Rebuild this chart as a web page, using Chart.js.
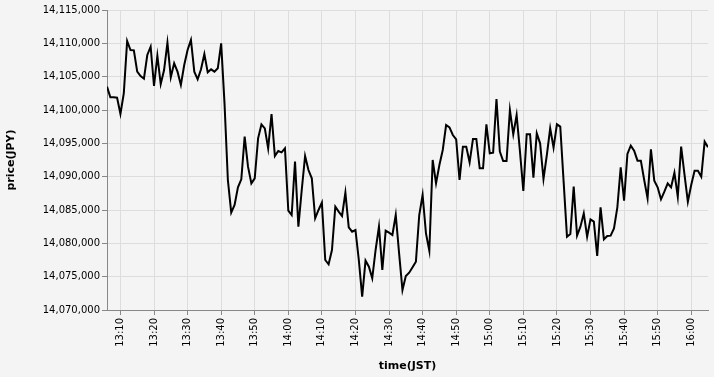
<!DOCTYPE html>
<html>
<head>
<meta charset="utf-8">
<script src="https://cdn.jsdelivr.net/npm/chart.js@4"></script>
<style>
    html, body { margin: 0; padding: 0; background: #f4f4f4; }
    canvas { display: block; }
</style>
</head>
<body>
<canvas id="price_chart" width="714" height="377"></canvas>
<script>
'use strict';
// one price per minute, first one at startTime
var startTime = '13:06';
var prices = [
    14103500, 14101900, 14101900, 14101850, 14099400, 14102500, 14110350, 14109000, 14108950, 14105750, // 13:06
    14105100, 14104700, 14108250, 14109500, 14103600, 14108150, 14103900, 14106000, 14110100, 14104900, // 13:16
    14107000, 14105750, 14103750, 14106750, 14109000, 14110500, 14105750, 14104600, 14106100, 14108400, // 13:26
    14105650, 14106100, 14105750, 14106250, 14110000, 14101000, 14089500, 14084600, 14085750, 14088400, // 13:36
    14089600, 14096000, 14091500, 14089000, 14089750, 14095750, 14097850, 14097250, 14094250, 14099400, // 13:46
    14093100, 14093850, 14093650, 14094250, 14084900, 14084250, 14092250, 14082500, 14088000, 14093100, // 13:56
    14091000, 14089750, 14083750, 14085000, 14086100, 14077500, 14076850, 14079000, 14085500, 14084750, // 14:06
    14084100, 14087600, 14082400, 14081750, 14082000, 14077500, 14072000, 14077400, 14076500, 14074750, // 14:16
    14079000, 14082500, 14076000, 14081900, 14081600, 14081250, 14084250, 14078500, 14073000, 14075100, // 14:26
    14075600, 14076400, 14077250, 14084250, 14087250, 14081500, 14078900, 14092500, 14089000, 14091750, // 14:36
    14094000, 14097750, 14097400, 14096250, 14095600, 14089500, 14094500, 14094500, 14092150, 14095650, // 14:46
    14095650, 14091250, 14091250, 14097850, 14093500, 14093600, 14101650, 14093750, 14092350, 14092350, // 14:56
    14100000, 14096350, 14099250, 14093750, 14087850, 14096350, 14096350, 14089850, 14096500, 14095000, // 15:06
    14089650, 14093250, 14097250, 14094350, 14097850, 14097500, 14089250, 14081000, 14081400, 14088500, // 15:16
    14081150, 14082500, 14084500, 14081000, 14083600, 14083250, 14078100, 14085400, 14080600, 14081100, // 15:26
    14081150, 14082250, 14085400, 14091400, 14086400, 14093400, 14094650, 14093900, 14092400, 14092400, // 15:36
    14089500, 14086750, 14094100, 14089400, 14088400, 14086600, 14087750, 14089000, 14088400, 14090600, // 15:46
    14087000, 14094500, 14090300, 14086250, 14088750, 14090900, 14090900, 14090000, 14095250, 14094400  // 15:56
];
var xTickLabels = ['13:10', '13:20', '13:30', '13:40', '13:50', '14:00', '14:10', '14:20', '14:30',
    '14:40', '14:50', '15:00', '15:10', '15:20', '15:30', '15:40', '15:50', '16:00'];
var yMin = 14070000;
var yMax = 14115000;
var yStep = 5000;

function toMinutes(hhmm) {
    var parts = hhmm.split(':');
    return parseInt(parts[0]) * 60 + parseInt(parts[1]);
}
function toHHMM(minutes) {
    var h = Math.floor(minutes / 60);
    var m = minutes % 60;
    return h + ':' + (m < 10 ? '0' + m : m);
}

var start = toMinutes(startTime);
let points = prices.map((p, i) => ({ x: start + i, y: p }));

let data = {
    datasets: [
        {
            label: 'price',
            data: points,
            borderColor: '#000',
            borderWidth: 2,
            pointRadius: 0,
            tension: 0,
            fill: false
        }
    ]
};

let tickFont = { family: 'DejaVu Sans', size: 10 };
let titleFont = { family: 'DejaVu Sans', size: 11, weight: 'bold' };

let config = {
    type: 'line',
    data: data,
    options: {
        responsive: false,
        animation: false,
        devicePixelRatio: 1,
        layout: { padding: { top: 10, right: 6, bottom: 0, left: 0 } },
        plugins: { legend: { display: false }, tooltip: { enabled: false } },
        scales: {
            x: {
                type: 'linear',
                min: start,
                max: start + prices.length - 1,
                afterBuildTicks: axis => {
                    axis.ticks = xTickLabels.map(t => ({ value: toMinutes(t) }));
                },
                afterFit: scale => { scale.height = 67; },
                grid: { color: '#ddd', tickColor: '#888', tickLength: 5 },
                border: { color: '#888' },
                ticks: {
                    font: tickFont,
                    color: '#000',
                    padding: 3,
                    minRotation: 90,
                    maxRotation: 90,
                    autoSkip: false,
                    callback: v => toHHMM(v)
                },
                title: { display: true, text: 'time(JST)', font: titleFont, color: '#000', padding: { top: 4, bottom: 4 } }
            },
            y: {
                min: yMin,
                max: yMax,
                afterFit: scale => { scale.width = 107; },
                grid: { color: '#ddd', tickColor: '#888', tickLength: 5 },
                border: { color: '#888' },
                ticks: {
                    stepSize: yStep,
                    font: tickFont,
                    color: '#000',
                    padding: 2,
                    callback: v => v.toLocaleString('en-US')
                },
                title: { display: true, text: 'price(JPY)', font: titleFont, color: '#000', padding: { top: 5, bottom: 4 } }
            }
        }
    }
};
new Chart(document.getElementById('price_chart').getContext('2d'), config);
</script>
</body>
</html>
